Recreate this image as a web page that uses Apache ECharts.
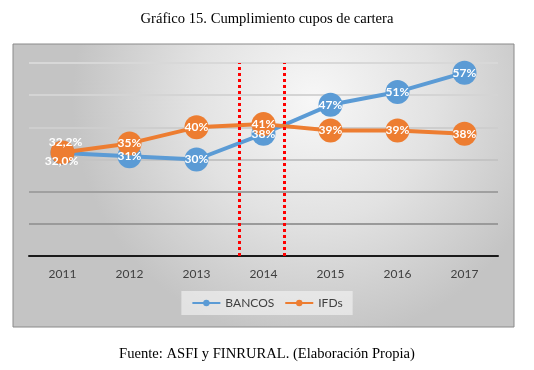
<!DOCTYPE html>
<html>
<head>
<meta charset="utf-8">
<script src="https://cdn.jsdelivr.net/npm/echarts@6/dist/echarts.min.js"></script>
<style>
  html, body { margin: 0; padding: 0; background: #fff; }
  #chart { width: 534px; height: 370px; }
</style>
</head>
<body>
<div id="chart"></div>
<script>
const years = ['2011', '2012', '2013', '2014', '2015', '2016', '2017'];
const bancos = [32.0, 31, 30, 38, 47, 51, 57];
const ifds = [32.2, 35, 40, 41, 39, 39, 38];
const bancosLabels = ['32,0%', '31%', '30%', '38%', '47%', '51%', '57%'];
const ifdsLabels = ['32,2%', '35%', '40%', '41%', '39%', '39%', '38%'];
// dividing lines, in category index units
const dividers = [2.64, 3.31];

const container = document.getElementById('chart');
const myChart = echarts.init(container, null, { renderer: 'canvas' });

function points(values, labels, firstOffset) {
    return values.map(function (v, i) {
        const item = { value: v, label: { formatter: labels[i] } };
        if (i === 0) item.label.offset = firstOffset;
        return item;
    });
}

const labelStyle = {
    show: true,
    position: 'inside',
    color: '#fff',
    fontFamily: 'Lato',
    fontWeight: 'bold',
    fontSize: 12
};

const option = {
    animation: false,
    textStyle: { fontFamily: 'Lato' },
    title: [
        {
            text: 'Gráfico 15. Cumplimiento cupos de cartera',
            left: 'center',
            top: 7,
            textStyle: { fontFamily: 'Liberation Serif', fontSize: 14.6, fontWeight: 'normal', color: '#000' }
        },
        {
            text: 'Fuente: ASFI y FINRURAL. (Elaboración Propia)',
            left: 'center',
            top: 342,
            textStyle: { fontFamily: 'Liberation Serif', fontSize: 14.6, fontWeight: 'normal', color: '#000' }
        }
    ],
    graphic: [
        {
            type: 'rect',
            z: -10,
            shape: { x: 13, y: 44, width: 501, height: 283 },
            style: {
                fill: new echarts.graphic.RadialGradient(0.6, 0.2, 0.85, [
                    { offset: 0, color: '#f7f7f7' },
                    { offset: 0.5, color: '#e2e2e2' },
                    { offset: 1, color: '#c4c4c4' }
                ]),
                stroke: '#8a8a8a',
                lineWidth: 1
            }
        }
    ],
    legend: {
        data: ['BANCOS', 'IFDs'],
        top: 291,
        left: 'center',
        padding: [6, 10],
        itemGap: 10,
        itemWidth: 28,
        itemHeight: 8,
        backgroundColor: 'rgba(240,240,240,0.7)',
        textStyle: { color: '#404040', fontSize: 12, fontFamily: 'Lato' }
    },
    grid: { left: 29, right: 36, top: 63, bottom: 114 },
    xAxis: [
        {
            type: 'category',
            data: years,
            boundaryGap: true,
            axisLine: { lineStyle: { color: '#1a1a1a', width: 2 } },
            axisTick: { show: false },
            axisLabel: { color: '#404040', fontSize: 12, margin: 12 }
        },
        {
            type: 'value',
            show: false,
            min: -0.5,
            max: 6.5
        }
    ],
    yAxis: {
        type: 'value',
        min: 0,
        max: 60,
        interval: 10,
        axisLabel: { show: false },
        axisLine: { show: false },
        axisTick: { show: false },
        splitLine: {
            lineStyle: {
                color: ['#1a1a1a', '#9a9a9a', '#a0a0a0', '#c4c4c4', '#cecece', '#d4d4d4', '#d8d8d8'],
                width: 2
            }
        }
    },
    series: [
        {
            name: 'BANCOS',
            type: 'line',
            data: bancos,
            symbol: 'circle',
            symbolSize: 24,
            itemStyle: { color: '#5b9bd5' },
            lineStyle: { color: '#5b9bd5', width: 4 },
            label: { show: false },
            z: 3
        },
        {
            name: 'IFDs',
            type: 'line',
            data: points(ifds, ifdsLabels, [3, -10]),
            symbol: 'circle',
            symbolSize: 24,
            itemStyle: { color: '#ed7d31' },
            lineStyle: { color: '#ed7d31', width: 4 },
            label: labelStyle,
            z: 4
        },
        {
            // BANCOS labels drawn above the orange markers
            name: 'BANCOS etiquetas',
            type: 'line',
            data: points(bancos, bancosLabels, [-1, 8]),
            symbol: 'circle',
            symbolSize: 24,
            itemStyle: { color: 'rgba(0,0,0,0)' },
            lineStyle: { width: 0, color: 'rgba(0,0,0,0)' },
            label: labelStyle,
            silent: true,
            z: 5
        },
        {
            name: 'divisores',
            type: 'line',
            xAxisIndex: 1,
            data: [],
            markLine: {
                silent: true,
                symbol: 'none',
                label: { show: false },
                lineStyle: { color: '#ff0000', type: [3, 3], width: 3 },
                data: dividers.map(d => ({ xAxis: d }))
            },
            z: 6
        }
    ]
};

myChart.setOption(option);
window.addEventListener('resize', myChart.resize);
</script>
</body>
</html>
